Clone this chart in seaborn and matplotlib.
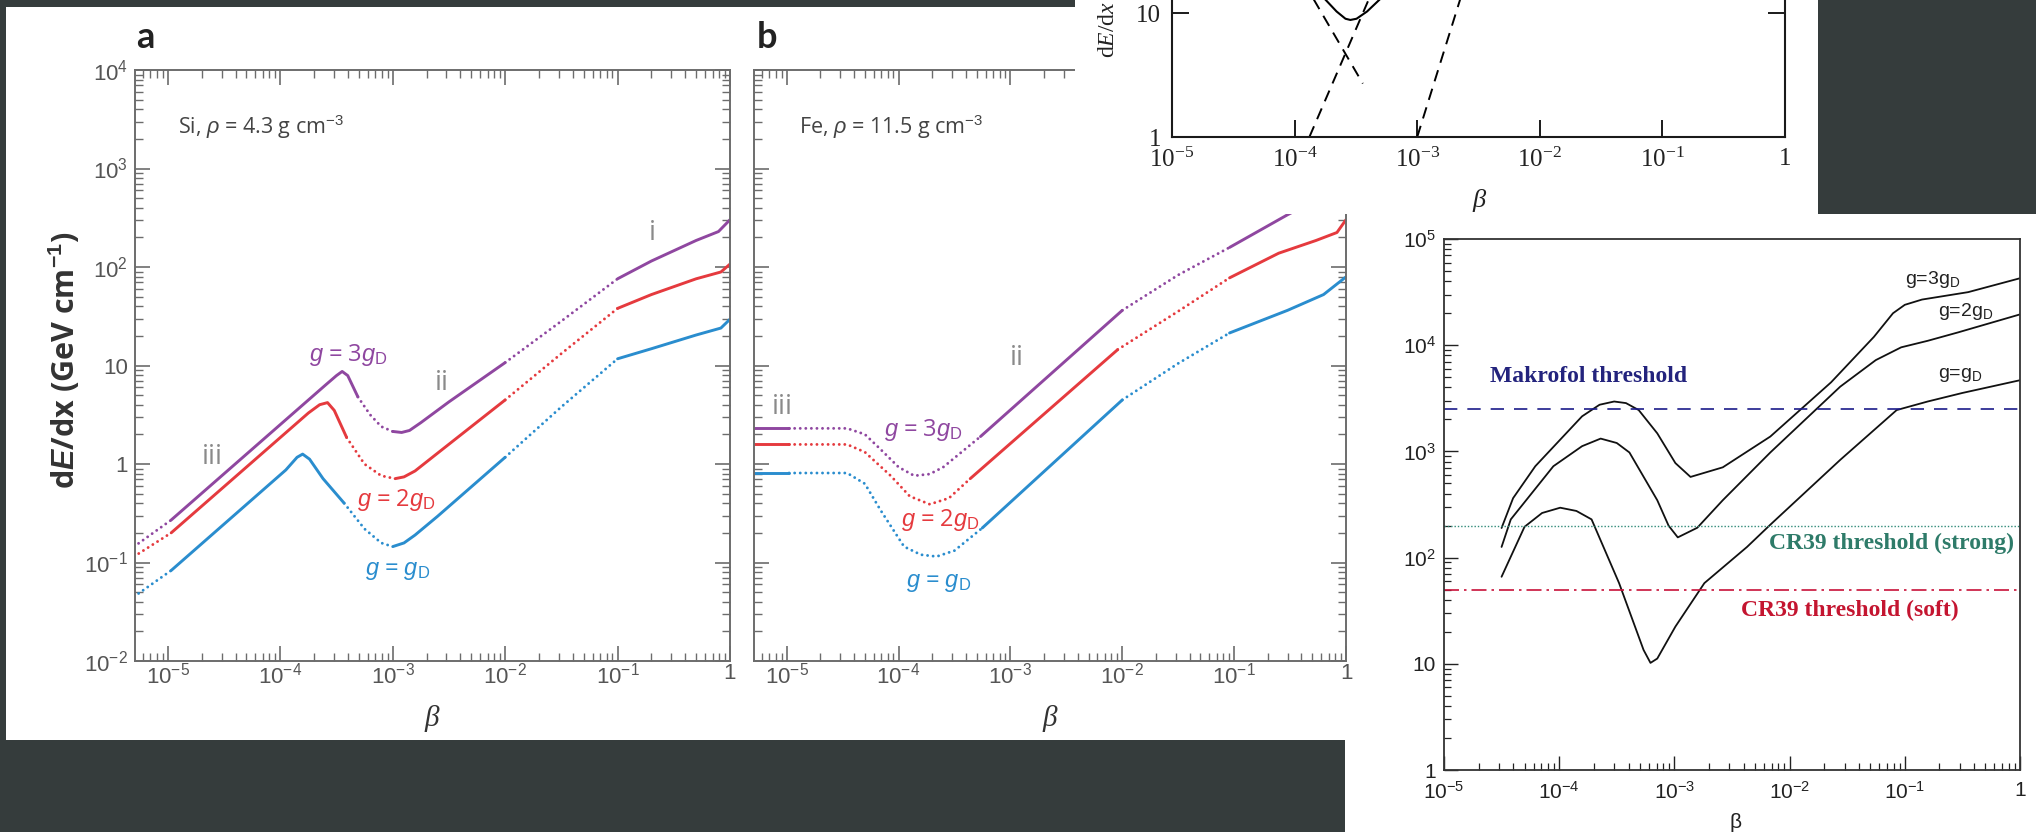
import numpy as np
import pandas as pd
import matplotlib
matplotlib.use("Agg")
import matplotlib.pyplot as plt
import matplotlib.ticker as mticker
from matplotlib.patches import Rectangle
import seaborn as sns

# ---------------- data ----------------
# panel a : Si, rho = 4.3 g/cm3  (beta, dE/dx in GeV/cm)
si_3gd_beta = [5.0e-6, 1.07e-5, 2.51e-4, 3.16e-4, 3.55e-4, 3.98e-4, 4.9e-4, 6.3e-4, 7.9e-4, 1.0e-3,
               1.2e-3, 1.41e-3, 1.78e-3, 3.16e-3, 1.0e-2, 3.16e-2, 0.1, 0.2, 0.5, 0.79, 1.0]
si_3gd_dedx = [0.145, 0.27, 6.3, 7.9, 8.7, 7.9, 4.8, 3.16, 2.4, 2.14,
               2.09, 2.19, 2.63, 4.27, 10.7, 28.2, 75.9, 115, 186, 229, 302]
si_3gd_solid = [(1.07e-5, 4.9e-4), (1.0e-3, 1.0e-2), (0.1, 1.0)]

si_2gd_beta = [5.0e-6, 1.07e-5, 1.78e-4, 2.24e-4, 2.63e-4, 3.02e-4, 3.89e-4, 5.6e-4, 7.9e-4, 1.05e-3,
               1.26e-3, 1.58e-3, 2.51e-3, 1.0e-2, 3.16e-2, 0.1, 0.2, 0.5, 0.83, 1.0]
si_2gd_dedx = [0.115, 0.2, 3.3, 4.0, 4.2, 3.5, 1.86, 1.0, 0.76, 0.71,
               0.74, 0.85, 1.29, 4.47, 13.2, 38, 52.5, 75.9, 89, 107]
si_2gd_solid = [(1.07e-5, 3.89e-4), (1.05e-3, 1.0e-2), (0.1, 1.0)]

si_gd_beta = [5.0e-6, 1.07e-5, 1.12e-4, 1.41e-4, 1.58e-4, 1.82e-4, 2.4e-4, 3.7e-4, 5.6e-4, 7.9e-4,
              1.0e-3, 1.26e-3, 1.58e-3, 2.51e-3, 1.0e-2, 3.16e-2, 0.1, 0.2, 0.5, 0.83, 1.0]
si_gd_dedx = [0.045, 0.083, 0.87, 1.17, 1.26, 1.12, 0.71, 0.4, 0.22, 0.158,
              0.145, 0.158, 0.19, 0.295, 1.17, 3.8, 11.7, 14.8, 20.4, 24, 29.5]
si_gd_solid = [(1.07e-5, 3.7e-4), (1.0e-3, 1.0e-2), (0.1, 1.0)]

# panel b : Fe, rho = 11.5 g/cm3
fe_3gd_beta = [5.0e-6, 1.05e-5, 3.47e-5, 5.0e-5, 6.9e-5, 1.0e-4, 1.38e-4, 1.9e-4, 2.51e-4, 5.4e-4,
               1.0e-2, 3.16e-2, 9.1e-2, 0.3, 0.63, 1.0]
fe_3gd_dedx = [2.3, 2.3, 2.3, 2.0, 1.41, 0.93, 0.76, 0.79, 0.93, 1.9,
               36.3, 83, 158, 339, 525, 794]
fe_3gd_solid = [(5.0e-6, 1.05e-5), (5.4e-4, 1.0e-2), (9.1e-2, 1.0)]

fe_2gd_beta = [5.0e-6, 1.05e-5, 3.47e-5, 5.0e-5, 8.5e-5, 1.26e-4, 1.9e-4, 2.82e-4, 4.37e-4, 9.1e-3,
               3.16e-2, 9.1e-2, 0.25, 0.54, 0.83, 1.0]
fe_2gd_dedx = [1.58, 1.58, 1.58, 1.32, 0.76, 0.47, 0.39, 0.45, 0.71, 14.5,
               35.5, 77.6, 138, 186, 224, 302]
fe_2gd_solid = [(5.0e-6, 1.05e-5), (4.37e-4, 9.1e-3), (9.1e-2, 1.0)]

fe_gd_beta = [5.0e-6, 1.05e-5, 3.47e-5, 5.0e-5, 6.9e-5, 1.12e-4, 1.58e-4, 2.19e-4, 3.16e-4, 5.6e-4,
              1.0e-2, 3.16e-2, 9.1e-2, 0.3, 0.63, 1.0]
fe_gd_dedx = [0.81, 0.81, 0.81, 0.63, 0.34, 0.145, 0.12, 0.115, 0.132, 0.224,
              4.47, 10.5, 21.4, 36.3, 52.5, 79.4]
fe_gd_solid = [(5.0e-6, 1.05e-5), (5.6e-4, 1.0e-2), (9.1e-2, 1.0)]

# top inset (cropped figure)
inset_u_beta = [1.7e-4, 2.2e-4, 2.6e-4, 2.85e-4, 3.2e-4, 3.9e-4, 5.2e-4]
inset_u_dedx = [13.5, 10.3, 9.0, 8.8, 9.0, 10.3, 13.5]
inset_rise1_beta = [1.32e-4, 4.3e-4]
inset_rise1_dedx = [1.0, 15.0]
inset_fall_beta = [1.31e-4, 3.6e-4]
inset_fall_dedx = [15.0, 2.7]
inset_rise2_beta = [1.0e-3, 2.35e-3]
inset_rise2_dedx = [1.0, 15.0]

# bottom-right panel
br_3gd_beta = [3.16e-5, 3.98e-5, 6.2e-5, 1.58e-4, 2.24e-4, 3.0e-4, 3.8e-4, 4.9e-4, 7.1e-4, 1.02e-3,
               1.38e-3, 2.63e-3, 6.8e-3, 2.29e-2, 5.4e-2, 7.9e-2, 0.1, 0.141, 0.355, 1.0]
br_3gd_dedx = [190, 363, 725, 2140, 2750, 2950, 2850, 2450, 1480, 776,
               575, 708, 1380, 4470, 12000, 20000, 24000, 26900, 31600, 42700]
br_2gd_beta = [3.16e-5, 3.8e-5, 8.9e-5, 1.58e-4, 2.29e-4, 3.16e-4, 4.07e-4, 7.1e-4, 8.9e-4, 1.07e-3,
               1.58e-3, 2.63e-3, 6.8e-3, 2.75e-2, 5.6e-2, 9.3e-2, 0.158, 0.29, 1.0]
br_2gd_dedx = [126, 229, 725, 1120, 1320, 1200, 977, 347, 200, 155,
               191, 347, 977, 4070, 7240, 9550, 11000, 13200, 19500]
br_gd_beta = [3.16e-5, 5.0e-5, 7.1e-5, 1.02e-4, 1.41e-4, 1.91e-4, 3.31e-4, 5.4e-4, 6.2e-4, 7.1e-4,
              1.02e-3, 1.82e-3, 4.27e-3, 6.8e-3, 2.75e-2, 8.5e-2, 0.158, 0.316, 1.0]
br_gd_dedx = [66, 195, 263, 295, 275, 229, 57.5, 13.5, 10.2, 11.2,
              22.4, 57.5, 126, 204, 832, 2450, 2950, 3550, 4680]
makrofol_thr = 2500
cr39_strong_thr = 200
cr39_soft_thr = 50

# ---------------- style ----------------
sns.set_theme(style="ticks")
plt.rcParams["font.family"] = ["Liberation Sans", "DejaVu Sans"]
plt.rcParams["mathtext.fontset"] = "custom"
plt.rcParams["mathtext.rm"] = "Liberation Serif"
plt.rcParams["mathtext.sf"] = "Liberation Sans"
plt.rcParams["mathtext.it"] = "Liberation Sans:italic"
plt.rcParams["mathtext.bf"] = "Liberation Sans:bold"
plt.rcParams["mathtext.bfit"] = "Liberation Sans:italic:bold"
plt.rcParams["mathtext.cal"] = "Liberation Serif:italic"

PURPLE, RED, BLUE = "#8f47a0", "#e53a3e", "#2a8dce"
GREY = "#6c6c6c"
W, H, DPI = 2036, 832, 100

fig = plt.figure(figsize=(W / DPI, H / DPI), dpi=DPI, facecolor="#353c3c")


def box(l, t, r, b):
    return [l / W, 1 - b / H, (r - l) / W, (b - t) / H]


def put(x, y, s, **kw):
    return fig.text(x / W, 1 - y / H, s, **kw)


def white(l, t, r, b, z):
    fig.add_artist(Rectangle((l / W, 1 - b / H), (r - l) / W, (b - t) / H, transform=fig.transFigure,
                             facecolor="white", edgecolor="none", zorder=z))


def decade_fmt(font):
    def f(v, pos):
        k = int(round(np.log10(v)))
        if k in (0, 1):
            return str(10 ** k)
        return r"$\math%s{10^{%d}}$" % (font, k)
    return mticker.FuncFormatter(f)


def draw_curve(ax, beta, dedx, solid, color, lw=2.1):
    beta = np.asarray(beta, float)
    dedx = np.asarray(dedx, float)
    mids = np.sqrt(beta[:-1] * beta[1:])
    is_solid = [any(lo <= m <= hi for lo, hi in solid) for m in mids]
    start = 0
    for i in range(1, len(mids) + 1):
        if i == len(mids) or is_solid[i] != is_solid[start]:
            seg = pd.DataFrame({"beta": beta[start:i + 1], "dedx": dedx[start:i + 1]})
            ls = "-" if is_solid[start] else (0, (0.01, 1.9))
            sns.lineplot(data=seg, x="beta", y="dedx", ax=ax, color=color, lw=lw, linestyle=ls,
                         sort=False, estimator=None, dash_capstyle="round", solid_capstyle="round")
            start = i


# white backgrounds of the three pasted pictures
white(1345, 214, W, H, 0.5)
white(6, 7, 1360, 740, 0.6)
white(1075, 0, 1818, 214, 2)

# ---------------- panels a and b ----------------
ax_a = fig.add_axes(box(135, 70, 730, 661))
ax_b = fig.add_axes(box(754, 70, 1346, 661))
panels = [
    (ax_a, [(si_3gd_beta, si_3gd_dedx, si_3gd_solid, PURPLE),
            (si_2gd_beta, si_2gd_dedx, si_2gd_solid, RED),
            (si_gd_beta, si_gd_dedx, si_gd_solid, BLUE)]),
    (ax_b, [(fe_3gd_beta, fe_3gd_dedx, fe_3gd_solid, PURPLE),
            (fe_2gd_beta, fe_2gd_dedx, fe_2gd_solid, RED),
            (fe_gd_beta, fe_gd_dedx, fe_gd_solid, BLUE)]),
]
for ax, curves in panels:
    ax.set_zorder(1)
    ax.set_facecolor("none")
    ax.set(xscale="log", yscale="log")
    for b, d, s, c in curves:
        draw_curve(ax, b, d, s, c)
    ax.set(xlim=(5.1e-6, 1), ylim=(1e-2, 1e4), xlabel="", ylabel="")
    for a in (ax.xaxis, ax.yaxis):
        a.set_major_locator(mticker.LogLocator(base=10, numticks=20))
        a.set_minor_locator(mticker.LogLocator(base=10, subs=np.arange(2, 10), numticks=20))
        a.set_minor_formatter(mticker.NullFormatter())
        a.set_major_formatter(decade_fmt("sf"))
    ax.tick_params(which="both", direction="in", top=True, right=True, color=GREY,
                   labelcolor="#555555", labelsize=16, labelfontfamily="Liberation Sans")
    ax.tick_params(which="major", length=11, width=1.2)
    ax.tick_params(which="minor", length=5.5, width=1.0)
    ax.tick_params(axis="x", which="major", pad=1.5)
    ax.tick_params(axis="y", which="major", pad=5)
    for sp in ax.spines.values():
        sp.set_color(GREY)
        sp.set_linewidth(1.4)
ax_b.tick_params(labelleft=False)

put(145, 38, "a", fontsize=26, fontweight="bold", family="Lato", color="#222222", ha="center", va="center")
put(767, 38, "b", fontsize=26, fontweight="bold", family="Lato", color="#222222", ha="center", va="center")
put(64, 360, r"d$\mathbfit{E}$/dx (GeV cm$^{\mathbf{-1}}$)", fontsize=22, fontweight="bold",
    family="Open Sans", color="#333333", rotation=90, ha="center", va="center")
put(178, 127, r"Si, $\rho$ = 4.3 g cm$^{\mathsf{-3}}$", fontsize=15.5, family="Open Sans",
    color="#444444", va="center")
put(799, 127, r"Fe, $\rho$ = 11.5 g cm$^{\mathsf{-3}}$", fontsize=15.5, family="Open Sans",
    color="#444444", va="center")
for x in (432, 1050):
    put(x, 718, "β", fontsize=21, family="Liberation Serif", style="italic", color="#333333",
        ha="center", va="center")

glab = dict(fontsize=17, family="Open Sans", ha="center", va="center")
put(348, 355, r"$g$ = 3$g_{\mathsf{D}}$", color=PURPLE, **glab)
put(396, 500, r"$g$ = 2$g_{\mathsf{D}}$", color=RED, **glab)
put(398, 570, r"$g$ = $g_{\mathsf{D}}$", color=BLUE, **glab)
put(923, 430, r"$g$ = 3$g_{\mathsf{D}}$", color=PURPLE, **glab)
put(940, 520, r"$g$ = 2$g_{\mathsf{D}}$", color=RED, **glab)
put(939, 582, r"$g$ = $g_{\mathsf{D}}$", color=BLUE, **glab)
rlab = dict(fontsize=20, family="Open Sans", color="#8a8a8a", ha="center", va="center")
put(652, 233, "i", **rlab)
put(442, 383, "ii", **rlab)
put(212, 457, "iii", **rlab)
put(1017, 358, "ii", **rlab)
put(782, 407, "iii", **rlab)

# ---------------- top inset (cropped) ----------------
ax_c = fig.add_axes(box(1172, 0, 1785, 137))
ax_c.set_zorder(3)
ax_c.set_facecolor("none")
ax_c.set(xscale="log", yscale="log")
sns.lineplot(x=inset_u_beta, y=inset_u_dedx, ax=ax_c, color="black", lw=1.5, sort=False, estimator=None)
for b, d in [(inset_rise1_beta, inset_rise1_dedx), (inset_fall_beta, inset_fall_dedx),
             (inset_rise2_beta, inset_rise2_dedx)]:
    sns.lineplot(x=b, y=d, ax=ax_c, color="black", lw=1.4, linestyle=(0, (6, 4)),
                 sort=False, estimator=None)
ax_c.set(xlim=(1e-5, 1), ylim=(1, 12.75), xlabel="", ylabel="")
ax_c.spines["top"].set_visible(False)
for sp in ("left", "right", "bottom"):
    ax_c.spines[sp].set_color("#1a1a1a")
    ax_c.spines[sp].set_linewidth(1.5)
ax_c.xaxis.set_major_locator(mticker.LogLocator(base=10, numticks=20))
ax_c.yaxis.set_major_locator(mticker.FixedLocator([1, 10]))
for a in (ax_c.xaxis, ax_c.yaxis):
    a.set_minor_locator(mticker.NullLocator())
    a.set_major_formatter(decade_fmt("rm"))
ax_c.tick_params(which="major", direction="in", length=12, width=1.4, right=True, top=False,
                 color="#1a1a1a", labelcolor="#222222", labelsize=18, pad=8,
                 labelfontfamily="Liberation Serif")
put(1108, 58, r"d$\mathcal{E}$/d$\mathcal{x}$", fontsize=17, family="Liberation Serif", color="#222222",
    rotation=90, rotation_mode="anchor", ha="left", va="center", zorder=4)
put(1479, 200, "β", fontsize=19, family="Liberation Serif", style="italic", color="#222222",
    ha="center", va="center", zorder=4)

# ---------------- bottom-right panel ----------------
ax_d = fig.add_axes(box(1444, 239, 2020, 770))
ax_d.set_zorder(3)
ax_d.set_facecolor("none")
ax_d.set(xscale="log", yscale="log")
for b, d in [(br_3gd_beta, br_3gd_dedx), (br_2gd_beta, br_2gd_dedx), (br_gd_beta, br_gd_dedx)]:
    sns.lineplot(x=b, y=d, ax=ax_d, color="#111111", lw=1.3, sort=False, estimator=None)
ax_d.axhline(makrofol_thr, color="#1b1b8a", lw=1.2, linestyle=(0, (8, 6)))
ax_d.axhline(cr39_strong_thr, color="#2f8a78", lw=1.0, linestyle=(0, (1, 1.4)))
ax_d.axhline(cr39_soft_thr, color="#c8123a", lw=1.2, linestyle=(0, (9, 3, 1.5, 3)))
ax_d.set(xlim=(1e-5, 1), ylim=(1, 1e5), xlabel="", ylabel="")
for a in (ax_d.xaxis, ax_d.yaxis):
    a.set_major_locator(mticker.LogLocator(base=10, numticks=20))
    a.set_minor_locator(mticker.LogLocator(base=10, subs=np.arange(2, 10), numticks=20))
    a.set_minor_formatter(mticker.NullFormatter())
    a.set_major_formatter(decade_fmt("sf"))
ax_d.tick_params(which="both", direction="in", top=False, right=False, color="#222222",
                 labelcolor="#222222", labelsize=15, labelfontfamily="Liberation Sans")
ax_d.tick_params(which="major", length=10, width=1.0)
ax_d.tick_params(which="minor", length=5, width=0.9)
ax_d.tick_params(axis="x", which="major", pad=8)
ax_d.tick_params(axis="y", which="major", pad=6)
for sp in ax_d.spines.values():
    sp.set_color("#333333")
    sp.set_linewidth(1.3)

put(1490, 377, "Makrofol threshold", fontsize=17, family="Liberation Serif", fontweight="bold",
    color="#23237d", va="center", zorder=4)
put(1769, 543, "CR39 threshold (strong)", fontsize=17, family="Liberation Serif", fontweight="bold",
    color="#2e7b69", va="center", zorder=4)
put(1741, 610, "CR39 threshold (soft)", fontsize=17, family="Liberation Serif", fontweight="bold",
    color="#c41530", va="center", zorder=4)
put(1905, 280, r"g=3g$_{\mathsf{D}}$", fontsize=14, color="#222222", va="center", zorder=4)
put(1938, 311, r"g=2g$_{\mathsf{D}}$", fontsize=14, color="#222222", va="center", zorder=4)
put(1938, 375, r"g=g$_{\mathsf{D}}$", fontsize=14, color="#222222", va="center", zorder=4)
put(1736, 822, "β", fontsize=15, color="#222222", ha="center", va="center", zorder=4)

fig.savefig("out.png", dpi=DPI, facecolor=fig.get_facecolor())
